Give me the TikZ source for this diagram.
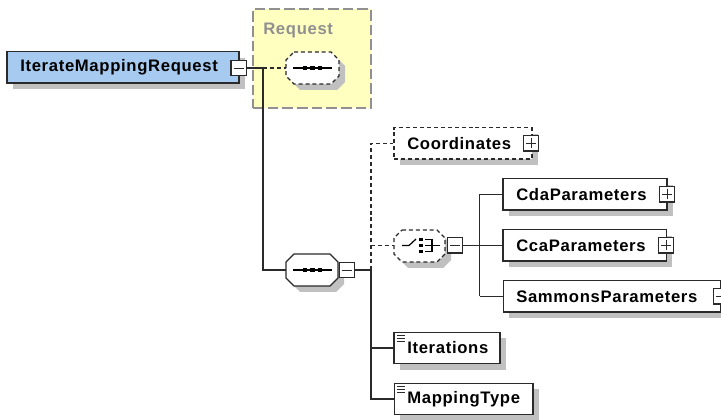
\documentclass[tikz,border=0pt]{standalone}
\usepackage{fontspec}
\setmainfont{Liberation Sans}[LetterSpace=4]
\usetikzlibrary{shadows}
\definecolor{lineK}{HTML}{2A2A2A}
\definecolor{shadowG}{HTML}{C0C0C0}
\definecolor{blueF}{HTML}{A6CAF0}
\definecolor{yellowF}{HTML}{FFFFC0}
\definecolor{dashG}{HTML}{909090}
\newcommand{\octoshape}[5]{% x0,y0,x1,y1,style
  \draw[#5] (#1+8,#2)--(#3-8,#2)--(#3,#2+8)--(#3,#4-8)--(#3-8,#4)--(#1+8,#4)--(#1,#4-8)--(#1,#2+8)--cycle;}
\tikzset{
  x=0.75pt,y=-0.75pt,
  shad/.style={drop shadow={shadow xshift=4.5pt,shadow yshift=-4.5pt,opacity=1,fill=shadowG}},
  lbl/.style={anchor=west,inner sep=0pt,font=\bfseries\fontsize{12.5}{14}\selectfont,text=black},
  elbox/.style={rectangle,draw=lineK,line width=1pt,fill=white,shad,inner sep=0pt,
    minimum height=23.5pt,anchor=center},
  dashbox/.style={elbox,dash pattern=on 3pt off 2.2pt},
  comppath/.style={draw=lineK,line width=1pt,fill=white,shad},
  dashcomp/.style={comppath,dash pattern=on 3pt off 2.2pt},
  anch/.style={rectangle,inner sep=0pt,minimum height=23.5pt,anchor=center},
  btn/.style={rectangle,draw=lineK,line width=1pt,fill=white,inner sep=0pt,minimum size=11.5pt},
  minusbtn/.style={btn,path picture={\draw[lineK,line width=0.7pt]
    ([xshift=2pt]path picture bounding box.west)--([xshift=-2pt]path picture bounding box.east);}},
  plusbtn/.style={btn,path picture={\draw[lineK,line width=0.7pt]
    ([xshift=2pt]path picture bounding box.west)--([xshift=-2pt]path picture bounding box.east)
    ([yshift=2pt]path picture bounding box.south)--([yshift=-2pt]path picture bounding box.north);}},
  conn/.style={lineK,line width=1.1pt},
  dconn/.style={lineK,line width=1pt,dash pattern=on 3pt off 2.2pt},
  icon/.style={black,line width=0.9pt},
}
\begin{document}
\begin{tikzpicture}
\path[use as bounding box,fill=white] (0,0) rectangle (721,420);
\clip (0,0) rectangle (721,420);
% group background
\node[rectangle,draw=dashG,line width=1.1pt,dash pattern=on 8pt off 3pt,fill=yellowF,
  minimum width=88.5pt,minimum height=74.25pt,inner sep=0pt,anchor=center] (group) at (312,58.5) {};
\node[lbl,text=dashG] (grouplbl) at (263,30) {Request};
% junctions
\coordinate (j1) at (263,68);
\coordinate (j2) at (263,270);
\coordinate (j3) at (371,270);
\coordinate (jc) at (371,143.5);
\coordinate (jch) at (371,245.5);
\coordinate (ji) at (371,348);
\coordinate (jm) at (371,399);
\coordinate (k0) at (479.5,245.5);
\coordinate (k1) at (479.5,194.5);
\coordinate (k3) at (479.5,296.5);
% main
\node[elbox,fill=blueF,minimum width=174pt] (root) at (123,67.5) {};
\node[lbl] (rootlbl) at (20,67.5) {IterateMappingRequest};
\node[minusbtn] (rootbtn) at (238.5,68) {};
% top seq
\octoshape{286}{52}{339}{84}{dashcomp}
\node[anch,minimum width=39.75pt] (seqa) at (312.5,68) {};
% lower seq
\octoshape{286}{254}{338}{286}{comppath}
\node[anch,minimum width=39pt] (seqb) at (312,270) {};
\node[minusbtn] (seqbbtn) at (347,270) {};
% choice
\octoshape{394}{230}{445}{262}{dashcomp}
\node[anch,minimum width=38.25pt] (choice) at (419.5,245.5) {};
\node[minusbtn] (choicebtn) at (455,245.5) {};
% children
\node[dashbox,minimum width=103.5pt] (coord) at (463,143.5) {};
\node[lbl] (coordlbl) at (407,143.5) {Coordinates};
\node[plusbtn] (coordbtn) at (531,143.5) {};
\node[elbox,minimum width=123pt] (cda) at (585,194.5) {};
\node[lbl] (cdalbl) at (516,194.5) {CdaParameters};
\node[plusbtn] (cdabtn) at (667,194.5) {};
\node[elbox,minimum width=122.5pt] (cca) at (584.5,245.5) {};
\node[lbl] (ccalbl) at (516,245.5) {CcaParameters};
\node[plusbtn] (ccabtn) at (666,245.5) {};
\node[elbox,minimum width=163pt] (sam) at (612,296.5) {};
\node[lbl] (samlbl) at (516,296.5) {SammonsParameters};
\node[plusbtn] (sambtn) at (721,296.5) {};
\node[elbox,minimum width=79.5pt] (iter) at (447,348) {};
\node[lbl] (iterlbl) at (407,348) {Iterations};
\node[elbox,minimum width=104pt] (map) at (463.5,399) {};
\node[lbl] (maplbl) at (407,399) {MappingType};
% connectors
\draw[conn] (rootbtn.east)--(j1);
\draw[dconn] (j1)--(seqa.west);
\draw[conn] (j1)--(j2)--(seqb.west);
\draw[conn] (seqbbtn.east)--(j3);
\draw[dconn] (j3)--(jc)--(coord.west);
\draw[dconn] (jch)--(choice.west);
\draw[conn] (j3)--(jm)--(map.west);
\draw[conn] (ji)--(iter.west);
\draw[conn] (choicebtn.east)--(k0);
\draw[conn] (k1)--(k3);
\draw[conn] (k1)--(cda.west);
\draw[conn] (k0)--(cca.west);
\draw[conn] (k3)--(sam.west);
% sequence icons
\foreach \n/\y in {a/68,b/270}{
  \draw[icon] (293,\y)--(332,\y);
  \foreach \x in {305,312.5,320} \fill (\x-2.2,\y-2.2) rectangle (\x+2.2,\y+2.2);
}
% choice icon
\draw[icon] (402,245.5)--(409,245.5)--(416,239);
\foreach \y in {239.5,245.5,251.5} \fill (419,\y-1.9) rectangle (423,\y+1.9);
\draw[icon] (425,239.5)--(432,239.5)--(432,251.5)--(425,251.5) (425,245.5)--(440,245.5);
% element markers
\foreach \x/\y in {397/335,397/338,397/341,397/386,397/389,397/392}
  \draw[lineK,line width=0.6pt] (\x,\y)--(\x+8,\y);
\end{tikzpicture}
\end{document}
